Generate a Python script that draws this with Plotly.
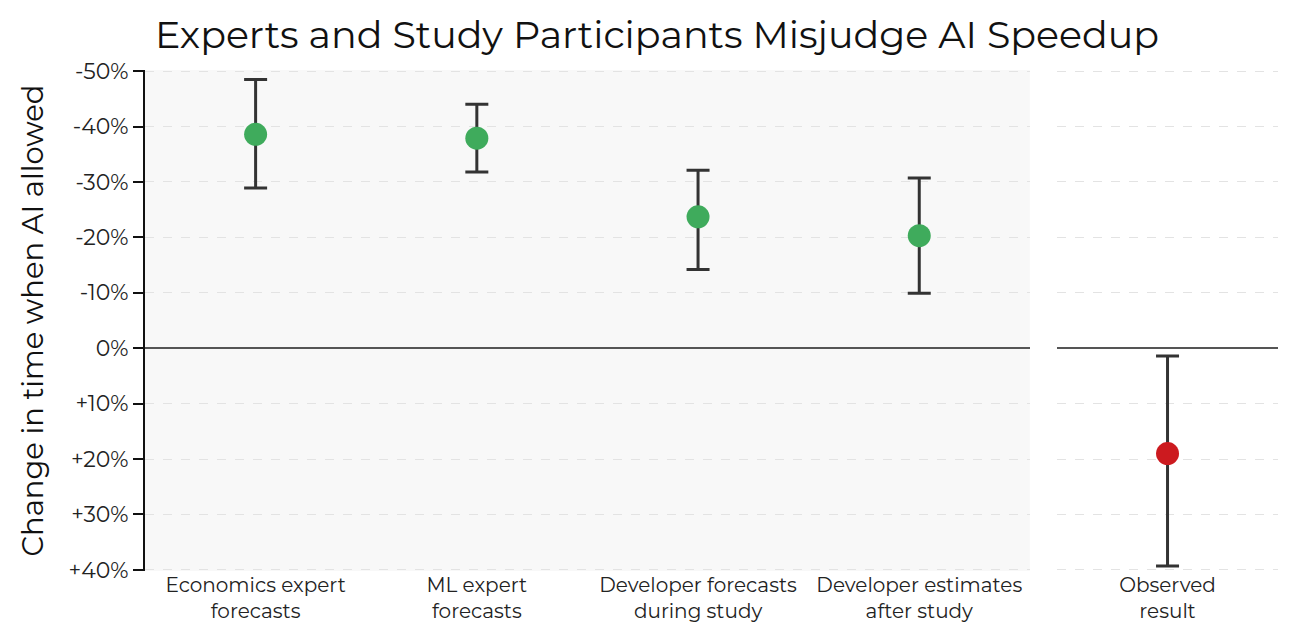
import plotly.graph_objects as go

# forecasts (negative = faster with AI)
forecast_labels = ["Economics expert<br>forecasts", "ML expert<br>forecasts",
                   "Developer forecasts<br>during study", "Developer estimates<br>after study"]
forecast_mid = [-38.6, -37.9, -23.7, -20.3]
forecast_lo = [-48.5, -44.0, -32.1, -30.7]
forecast_hi = [-28.9, -31.8, -14.2, -9.9]

observed_labels = ["Observed<br>result"]
observed_mid = [19.0]
observed_lo = [1.4]
observed_hi = [39.3]

tick_vals = [-50, -40, -30, -20, -10, 0, 10, 20, 30, 40]
tick_text = ["-50%", "-40%", "-30%", "-20%", "-10%", "0%", "+10%", "+20%", "+30%", "+40%"]

font = "Montserrat, Inter, Open Sans, sans-serif"


def err(mid, lo, hi):
    return dict(type="data", symmetric=False,
                array=[h - m for m, h in zip(mid, hi)],
                arrayminus=[m - l for m, l in zip(mid, lo)],
                color="#333333", thickness=3, width=11.5)


fig = go.Figure()

fig.add_trace(go.Scatter(
    x=forecast_labels, y=forecast_mid, mode="markers",
    marker=dict(size=23, color="#3fab5c"),
    error_y=err(forecast_mid, forecast_lo, forecast_hi),
    xaxis="x", yaxis="y", showlegend=False))

fig.add_trace(go.Scatter(
    x=observed_labels, y=observed_mid, mode="markers",
    marker=dict(size=23, color="#cc1a1f"),
    error_y=err(observed_mid, observed_lo, observed_hi),
    xaxis="x2", yaxis="y2", showlegend=False))

yax = dict(range=[40.2, -50.2], tickvals=tick_vals, ticktext=tick_text,
           gridcolor="#e3e3e3", griddash="dash", gridwidth=1,
           zeroline=True, zerolinecolor="#555555", zerolinewidth=2,
           tickfont=dict(size=22, color="#222222", family=font))

fig.update_layout(
    width=1298, height=632,
    margin=dict(l=137, r=28, t=62, b=69),
    paper_bgcolor="white",
    font=dict(family=font, color="#222222"),
    title=dict(text="Experts and Study Participants Misjudge AI Speedup",
               x=0.5, xanchor="center", y=0.958, yanchor="middle",
               font=dict(size=38, color="#111111", family=font)),
    xaxis=dict(domain=[0, 0.781], range=[-0.5, 3.5], showgrid=False,
               showline=False, ticks="", tickfont=dict(size=20, color="#222222")),
    xaxis2=dict(domain=[0.805, 1], range=[-0.5, 0.5], showgrid=False,
                showline=False, ticks="", tickfont=dict(size=20, color="#222222")),
    yaxis=dict(**yax, anchor="x", showline=True, linecolor="#111111", linewidth=2,
               ticks="outside", ticklen=10, tickwidth=2, tickcolor="#111111",
               title=dict(text="Change in time when AI allowed",
                          font=dict(size=29, color="#111111"), standoff=16)),
    yaxis2=dict(**yax, anchor="x2", showticklabels=False, showline=False),
    plot_bgcolor="#f8f8f8",
)

# the right panel sits on white
fig.add_shape(type="rect", xref="x2 domain", yref="y2 domain", x0=0, x1=1, y0=0, y1=1,
              fillcolor="white", line_width=0, layer="below")

fig.write_html("out.html")
